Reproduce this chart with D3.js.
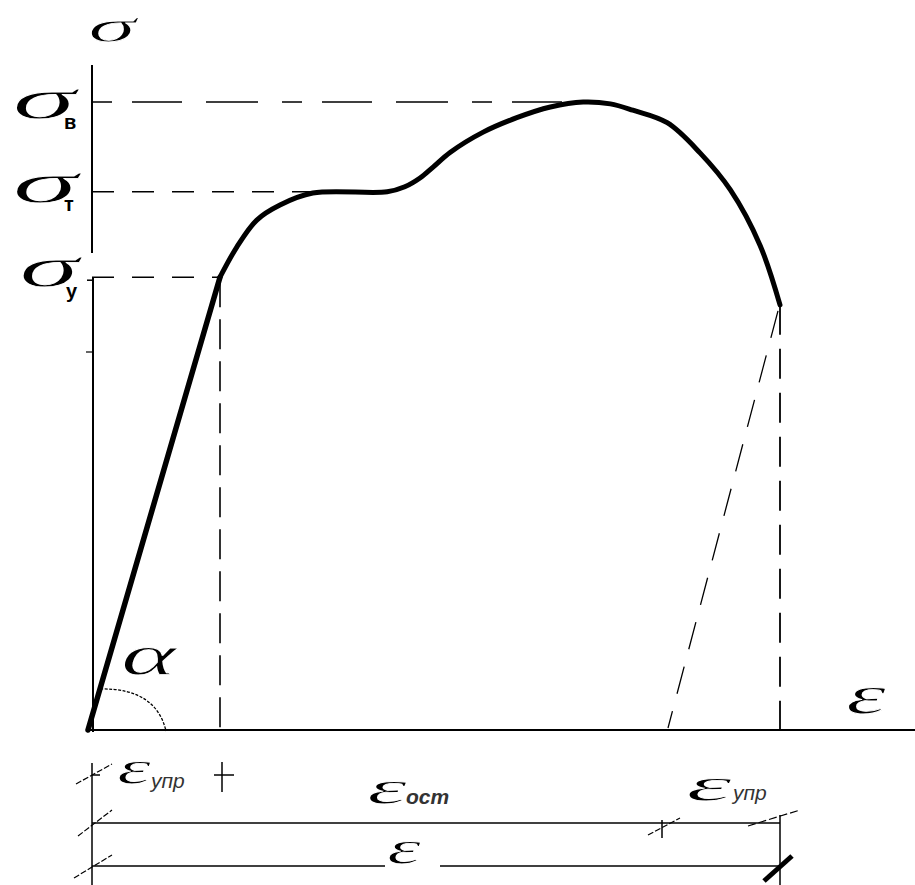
<!DOCTYPE html>
<html><head><meta charset="utf-8">
<script src="https://cdn.jsdelivr.net/npm/d3@7"></script>
<style>body{margin:0;background:#fff}svg{display:block}</style>
</head><body>
<script>
// ---- data (strain ε in %, stress σ as % of σв) ----
const elasticStrain = [0, 16.5];
const elasticStress = [0, 72.1];
const curveStrain = [16.5, 18.6, 21.1, 24.0, 28.1, 37.4, 39.6, 41.5, 43.1, 45.3, 49.4, 53.6, 57.8, 61.9, 65.3, 68.1, 72.4, 76.5, 80.3, 84.0, 86.5];
const curveStress = [72.1, 76.9, 81.2, 83.6, 85.5, 85.7, 86.5, 87.9, 89.6, 92.0, 95.2, 97.5, 99.2, 100, 99.7, 98.7, 96.7, 91.9, 86.0, 77.2, 67.7];
const levelSubs = ["в", "т", "у"];
const levelValues = [100, 85.7, 72.1];
const levelEnds = [62.0, 29.0, 16.5];      // strain where each level meets the curve
const elasticLimitStrain = 16.5;
const ruptureStrain = 86.5;
const ruptureStress = 67.7;
const residualStrain = 72.5;
const dimLabels = [{main: "ε", sub: "упр"}, {main: "ε", sub: "ост"}, {main: "ε", sub: "упр"}, {main: "ε", sub: ""}];

const W = 915, H = 885;
const svg = d3.select("body").append("svg").attr("width", W).attr("height", H);
const x = d3.scaleLinear().domain([0, 100]).range([88, 888]);
const y = d3.scaleLinear().domain([0, 100]).range([730, 102]);
const greek = "'Liberation Serif', 'DejaVu Serif', serif";
const sans = "'Liberation Sans', Arial, sans-serif";

const textLayer = svg.append("g");
const lineLayer = svg.append("g");
const subLayer = svg.append("g");

// axes
lineLayer.append("line").attr("x1", 92).attr("x2", 92).attr("y1", 65).attr("y2", 253).attr("stroke", "#000").attr("stroke-width", 2);
lineLayer.append("line").attr("x1", 93).attr("x2", 93).attr("y1", y(levelValues[2])).attr("y2", y(0) + 2).attr("stroke", "#000").attr("stroke-width", 2);
lineLayer.append("line").attr("x1", 87).attr("x2", W).attr("y1", y(0)).attr("y2", y(0)).attr("stroke", "#000").attr("stroke-width", 2);
// small ticks
lineLayer.append("line").attr("x1", 87).attr("x2", 93).attr("y1", y(levelValues[2]) + 3).attr("y2", y(levelValues[2]) + 3).attr("stroke", "#000").attr("stroke-width", 1.5);
lineLayer.append("line").attr("x1", 86).attr("x2", 93).attr("y1", 352).attr("y2", 352).attr("stroke", "#000").attr("stroke-width", 1.2);

// level dashed lines
levelValues.forEach((v, i) => {
  lineLayer.append("line").attr("x1", 92).attr("x2", x(levelEnds[i])).attr("y1", y(v)).attr("y2", y(v))
    .attr("stroke", "#000").attr("stroke-width", 1.6).attr("stroke-dasharray", i === 0 ? "20,20,50,24,52,24" : "22,18");
});
// vertical dashed lines
lineLayer.append("line").attr("x1", x(elasticLimitStrain)).attr("x2", x(elasticLimitStrain)).attr("y1", y(levelValues[2])).attr("y2", y(0))
  .attr("stroke", "#000").attr("stroke-width", 1.6).attr("stroke-dasharray", "30,12");
lineLayer.append("line").attr("x1", x(ruptureStrain)).attr("x2", x(ruptureStrain)).attr("y1", y(ruptureStress)).attr("y2", y(0))
  .attr("stroke", "#000").attr("stroke-width", 1.8).attr("stroke-dasharray", "30,14");
// unloading dashed line
lineLayer.append("line").attr("x1", x(ruptureStrain) - 2).attr("x2", x(residualStrain)).attr("y1", y(ruptureStress) + 6).attr("y2", y(0) - 2)
  .attr("stroke", "#000").attr("stroke-width", 1.3).attr("stroke-dasharray", "28,18");

// main curve
const pts = elasticStrain.map((e, i) => [x(e), y(elasticStress[i])]);
lineLayer.append("path").attr("d", d3.line()(pts)).attr("fill", "none").attr("stroke", "#000").attr("stroke-width", 5.5).attr("stroke-linecap", "round");
const cpts = curveStrain.map((e, i) => [x(e), y(curveStress[i])]);
lineLayer.append("path").attr("d", d3.line().curve(d3.curveCatmullRom.alpha(0.5))(cpts)).attr("fill", "none").attr("stroke", "#000").attr("stroke-width", 5).attr("stroke-linecap", "round").attr("stroke-linejoin", "round");

// alpha arc
lineLayer.append("path").attr("d", "M100,689 C140,688 160,705 166,731").attr("fill", "none").attr("stroke", "#000").attr("stroke-width", 1.3).attr("stroke-dasharray", "3,1.5");

// text helper
function txt(layer, s, xx, yy, opts) {
  const t = layer.append("text").attr("x", xx).attr("y", yy).text(s)
    .attr("font-family", opts.family || greek).attr("font-size", opts.size)
    .attr("font-style", opts.style || "normal").attr("font-weight", opts.weight || "normal")
    .attr("fill", opts.fill || "#000");
  if (opts.erode) t.attr("stroke", "#fff").attr("stroke-width", opts.erode).attr("paint-order", "fill");
  if (opts.len) t.attr("textLength", opts.len).attr("lengthAdjust", "spacingAndGlyphs");
  return t;
}
const G = {style: "italic", erode: 0.9};
// σ axis label
txt(textLayer, "σ", 88, 42, Object.assign({size: 46, len: 48}, G));
// level labels
const lvlPos = [[12, 118, 64, 64, 129], [12, 202, 66, 64, 211], [19, 286, 60, 66, 298]];
levelSubs.forEach((s, i) => {
  const p = lvlPos[i];
  txt(textLayer, "σ", p[0], p[1], Object.assign({size: 56, len: p[2]}, G));
  txt(subLayer, s, p[3], p[4], {size: 20, weight: "bold", family: sans});
});
// ε axis label and α
txt(textLayer, "ε", 846, 713, Object.assign({size: 54, len: 40}, G));
txt(textLayer, "α", 121, 674, Object.assign({size: 58, len: 55}, G));

// dimension lines
const dl = (x1, y1, x2, y2, w, dash) => {
  const l = lineLayer.append("line").attr("x1", x1).attr("y1", y1).attr("x2", x2).attr("y2", y2).attr("stroke", "#000").attr("stroke-width", w || 1.5);
  if (dash) l.attr("stroke-dasharray", dash);
  return l;
};
const r1 = 775, r2 = 823, r3 = 866;
dl(92, 763, 92, H);
dl(92, r1, 100, r1);
dl(76, 784, 112, 764, 1.2, "6,2");
dl(x(elasticLimitStrain) - 6, r1, x(elasticLimitStrain) + 14, r1);
dl(x(elasticLimitStrain) + 2, 762, x(elasticLimitStrain) + 2, 792);
dl(92, r2, x(ruptureStrain), r2);
dl(78, 836, 112, 810, 1.2, "6,2");
dl(x(residualStrain) - 6, r2 - 3, x(residualStrain) - 6, 838);
dl(648, 835, 680, 818, 1.2, "6,2");
dl(748, 826, 800, 810, 1.2, "8,3");
dl(92, r3, 385, r3);
dl(440, r3, x(ruptureStrain), r3);
dl(74, 878, 112, 855, 1.2, "6,2");
dl(x(ruptureStrain), 815, x(ruptureStrain), H);
dl(764, 881, 792, 856, 5);

// dimension labels
const dimPos = [[117, 784, 34, 151, 788], [367, 804, 40, 406, 804], [686, 801, 46, 733, 800], [387, 864, 34, 0, 0]];
dimLabels.forEach((d, i) => {
  const p = dimPos[i];
  txt(textLayer, d.main, p[0], p[1], Object.assign({size: 48, len: p[2]}, G));
  if (d.sub) txt(subLayer, d.sub, p[3], p[4], {size: 21, style: "italic", family: sans, fill: "#333", weight: i === 1 ? "bold" : "normal"});
});
</script>
</body></html>
